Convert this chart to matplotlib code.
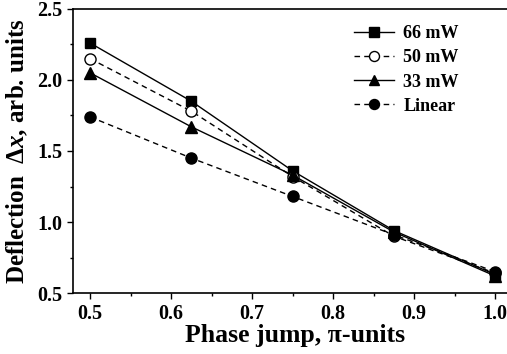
import matplotlib.pyplot as plt
from matplotlib.ticker import MultipleLocator

plt.rcParams['font.family'] = 'Liberation Serif'
plt.rcParams['font.weight'] = 'bold'
plt.rcParams['mathtext.fontset'] = 'custom'
plt.rcParams['mathtext.rm'] = 'Liberation Serif:bold'
plt.rcParams['mathtext.it'] = 'Liberation Serif:bold:italic'
plt.rcParams['mathtext.bf'] = 'Liberation Serif:bold'

phase = [0.5, 0.625, 0.75, 0.875, 1.0]
p66 = [2.26, 1.85, 1.36, 0.94, 0.63]
p50 = [2.15, 1.78, 1.32, 0.90, 0.64]
p33 = [2.05, 1.67, 1.33, 0.93, 0.62]
linear = [1.74, 1.45, 1.18, 0.91, 0.65]

fig = plt.figure(figsize=(5.07, 3.54), dpi=100)
ax = fig.add_axes([0.144, 0.172, 0.876, 0.803])

ax.plot(phase, p66, '-', color='black', lw=1, marker='s', ms=7.5, label='66 mW')
ax.plot(phase, p50, '--', color='black', lw=1, marker='o', ms=8, mfc='white', label='50 mW',
        dashes=(4, 3))
ax.plot(phase, p33, '-', color='black', lw=1, marker='^', ms=8, label='33 mW')
ax.plot(phase, linear, '--', color='black', lw=1, marker='o', ms=8, label='Linear',
        dashes=(4, 3))

ax.set_xlim(0.479, 1.027)
ax.set_ylim(0.5, 2.5)
ax.xaxis.set_major_locator(MultipleLocator(0.1))
ax.xaxis.set_minor_locator(MultipleLocator(0.05))
ax.yaxis.set_major_locator(MultipleLocator(0.5))
ax.yaxis.set_minor_locator(MultipleLocator(0.25))
ax.tick_params(which='major', direction='out', length=4, width=1, labelsize=14.5)
ax.tick_params(axis='x', which='major', pad=4)
ax.tick_params(which='minor', direction='out', length=2.5, width=1)
for lab in ax.get_xticklabels() + ax.get_yticklabels():
    lab.set_fontweight('bold')
for s in ax.spines.values():
    s.set_linewidth(1.2)

ax.set_xlabel('Phase jump, π-units', fontsize=18.5, fontweight='bold', labelpad=0)
ax.set_ylabel(r'Deflection  Δ$\mathit{x}$, arb. units', fontsize=18, fontweight='bold',
              labelpad=5)

ax.legend(loc='upper right', bbox_to_anchor=(0.905, 1.0), frameon=False,
          prop={'family': 'Liberation Serif', 'weight': 'bold', 'size': 13},
          handlelength=2.2, handletextpad=0.5, labelspacing=0.4, markerscale=0.9)

fig.savefig('out.png', dpi=100)
